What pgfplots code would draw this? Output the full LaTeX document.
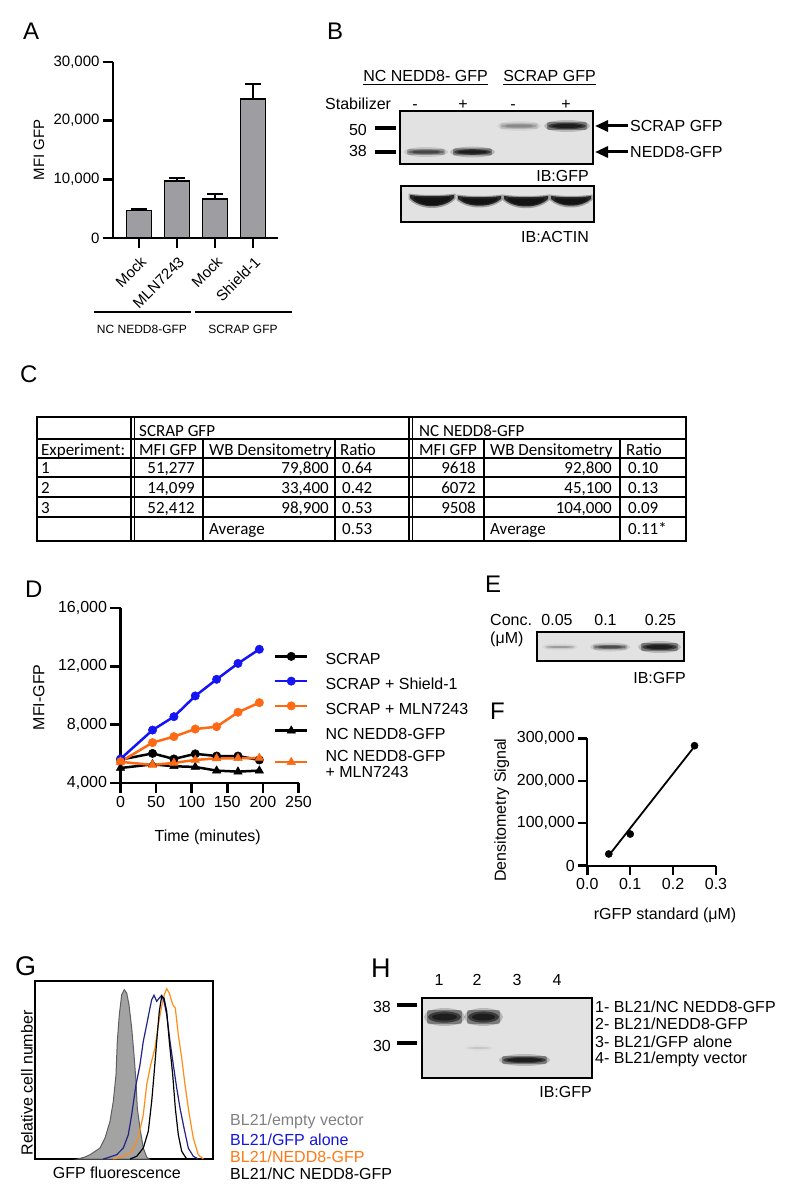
\documentclass[border=0pt]{standalone}
\usepackage{pgfplots}
\pgfplotsset{compat=1.18}
\usepackage{fontspec}
\setmainfont{Liberation Sans}
\newfontfamily\calibri{Carlito}
\usetikzlibrary{arrows.meta}

\definecolor{barGray}{RGB}{158,158,162}
\definecolor{dBlue}{RGB}{20,20,245}
\definecolor{dOrange}{RGB}{255,105,20}
\definecolor{gNavy}{RGB}{35,35,135}
\definecolor{gOrange}{RGB}{255,140,20}
\definecolor{gFill}{RGB}{163,163,163}
\definecolor{gEdge}{RGB}{95,95,95}
\definecolor{gText}{RGB}{128,128,128}
\definecolor{tBlue}{RGB}{20,20,220}
\definecolor{tOrange}{RGB}{255,120,20}
\definecolor{blotBg}{RGB}{226,226,226}

\newcommand\fs[1]{\fontsize{#1}{#1}\selectfont}
\newcommand\tl[3]{\node[anchor=base west,inner sep=0pt] at (#1,-#2) {#3};}
\newcommand\tr[3]{\node[anchor=base east,inner sep=0pt] at (#1,-#2) {#3};}
\newcommand\tc[3]{\node[anchor=base,inner sep=0pt] at (#1,-#2) {#3};}
\newcommand\band[5]{%
  \pgfmathsetmacro\oA{0.18*#5}\pgfmathsetmacro\oB{0.35*#5}\pgfmathsetmacro\oC{0.5*#5}\pgfmathsetmacro\oD{0.5*#5}%
  \fill[black,opacity=\oA] ({(#1+#2)/2},-#3) ellipse ({(#2-#1)/2+3} and {#4+2});
  \fill[black,opacity=\oB,rounded corners=2pt] (#1,{-#3-#4}) rectangle (#2,{-#3+#4});
  \fill[black,opacity=\oC] ({(#1+#2)/2},-#3) ellipse ({(#2-#1)/2-1} and {#4*0.8});
  \fill[black,opacity=\oD] ({(#1+#2)/2},-#3) ellipse ({(#2-#1)/2-5} and {#4*0.5});
}
% curved (smile-shaped) band: x-left, x-right, y-top, y-bottom (middle)
\newcommand\actinband[4]{%
  \fill[black,opacity=0.3] ({#1-1.5},{-#3+1.5}) .. controls ({#1+12},{-#3-0.5}) and ({#2-12},{-#3-0.5}) .. ({#2+1.5},{-#3+1.5})
     -- ({#2+1.5},{-#3-4}) .. controls ({#2-10},{-#4-2}) and ({#1+10},{-#4-2}) .. ({#1-1.5},{-#3-4}) -- cycle;
  \fill[black,opacity=0.75] (#1,-#3) .. controls ({#1+12},{-#3-1.5}) and ({#2-12},{-#3-1.5}) .. (#2,-#3)
     -- (#2,{-#3-3}) .. controls ({#2-10},{-#4}) and ({#1+10},{-#4}) .. (#1,{-#3-3}) -- cycle;
  \fill[black,opacity=0.5] ({#1+4},{-#3-2}) .. controls ({#1+14},{-#3-3}) and ({#2-14},{-#3-3}) .. ({#2-4},{-#3-2})
     -- ({#2-4},{-#3-4}) .. controls ({#2-12},{-#4+2}) and ({#1+12},{-#4+2}) .. ({#1+4},{-#3-4}) -- cycle;
}
\newcommand\lrow[1]{\rule[-6.75pt]{0pt}{25pt}#1}

\pgfplotsset{
  prism/.style={
    scale only axis,
    axis x line=bottom, axis y line=left,
    axis line style={-, line width=2.5pt},
    every tick/.style={black, line width=2.5pt},
    major tick style={black, line width=2.5pt},
    xtick style={black, line width=2.5pt},
    ytick style={black, line width=2.5pt},
    tick align=outside,
    major tick length=10pt,
    tick label style={font=\fs{16}},
    /pgf/number format/fixed,
    /pgf/number format/assume math mode=true,
    /pgf/number format/1000 sep={,},
    scaled ticks=false,
    clip=false,
  },
}

\begin{document}
\begin{tikzpicture}
\path[use as bounding box] (0pt,0pt) rectangle (788pt,-1198pt);

% ---------------- Panel A ----------------
\begin{axis}[prism,
  at={(113pt,-238pt)}, anchor=south west,
  width=165pt, height=176pt,
  xmin=-0.684, xmax=3.658, ymin=0, ymax=30000,
  ytick={0,10000,20000,30000},
  xtick={0,1,2,3},
  xticklabels={Mock,MLN7243,Mock,Shield-1},
  tick label style={font=\fs{15}},
  xticklabel style={xshift=7pt, yshift=-9pt, rotate=45, anchor=east, font=\fs{15}},
  every axis y label/.style={at={(axis description cs:-0.448,0.5)}, rotate=90, anchor=center, font=\fs{15}},
  ylabel={MFI GFP},
]
\addplot[ybar, bar width=25pt, fill=barGray, draw=black, line width=1.8pt,
  error bars/.cd, y dir=plus, y explicit,
  error bar style={line width=2.2pt, black},
  error mark options={rotate=90, mark size=8pt, line width=2.2pt, black}]
  coordinates {(0,4700) +- (0,250) (1,9650) +- (0,550) (2,6650) +- (0,850) (3,23650) +- (0,2550)};
\pgfplotsinvokeforeach{0,1,2,3}{\draw[line width=2.5pt] (axis cs:#1,0) -- ++(0pt,-10pt);}
\pgfplotsinvokeforeach{0,10000,20000,30000}{\draw[line width=2.5pt] (axis cs:-0.684,#1) -- ++(-10pt,0pt);}
\end{axis}

% ---------------- Panel D ----------------
\begin{axis}[prism,
  at={(120.5pt,-783pt)}, anchor=south west,
  width=178pt, height=175pt,
  xmin=0, xmax=250, ymin=4000, ymax=16000,
  xtick={0,50,100,150,200,250}, ytick={4000,8000,12000,16000},
  xlabel={Time (minutes)}, ylabel={MFI-GFP},
  every axis x label/.style={at={(axis description cs:0.49,-0.309)}, anchor=center, font=\fs{16}},
  every axis y label/.style={at={(axis description cs:-0.458,0.489)}, rotate=90, anchor=center, font=\fs{16}},
  legend style={at={(axis description cs:0.8624,0.780)}, anchor=north west, draw=none, fill=none,
    inner sep=0pt, outer sep=0pt, font=\fs{16}, row sep=5pt, column sep=17pt,
    cells={align=left, anchor=west}, nodes={inner sep=0pt}},
  legend image code/.code={\draw[mark repeat=2,mark phase=2,#1] plot coordinates {(0pt,0pt) (16pt,0pt) (32pt,0pt)};},
]
\addplot[black, line width=2.5pt, mark=*, mark size=4.2pt, mark options={solid, line width=0.5pt}]
  coordinates {(0,5600) (45,6030) (75,5650) (105,6000) (135,5850) (165,5850) (195,5580)};
\addlegendentry{\lrow{SCRAP}}
\addplot[dBlue, line width=2.5pt, mark=*, mark size=4.2pt, mark options={solid, line width=0.5pt}]
  coordinates {(0,5650) (45,7630) (75,8550) (105,9970) (135,11110) (165,12200) (195,13170)};
\addlegendentry{\lrow{SCRAP + Shield-1}}
\addplot[dOrange, line width=2.5pt, mark=*, mark size=4.2pt, mark options={solid, line width=0.5pt}]
  coordinates {(0,5460) (45,6770) (75,7180) (105,7700) (135,7860) (165,8850) (195,9510)};
\addlegendentry{\lrow{SCRAP + MLN7243}}
\addplot[black, line width=2.5pt, mark=triangle*, mark size=4.8pt, mark options={solid, line width=0.5pt}]
  coordinates {(0,5030) (45,5280) (75,5150) (105,5100) (135,4850) (165,4780) (195,4850)};
\addlegendentry{\lrow{NC NEDD8-GFP}}
\addplot[dOrange, line width=2.5pt, mark=triangle*, mark size=4.8pt, mark options={solid, line width=0.5pt}]
  coordinates {(0,5450) (45,5240) (75,5380) (105,5580) (135,5690) (165,5700) (195,5720)};
\addlegendentry{\fontsize{16}{17}\selectfont\rule{0pt}{15.75pt}NC NEDD8-GFP\\\rule[-4.25pt]{0pt}{4.25pt}+ MLN7243}
\pgfplotsinvokeforeach{0,50,100,150,200,250}{\draw[line width=2.5pt] (axis cs:#1,4000) -- ++(0pt,-10pt);}
\pgfplotsinvokeforeach{4000,8000,12000,16000}{\draw[line width=2.5pt] (axis cs:0,#1) -- ++(-10pt,0pt);}
\end{axis}

% ---------------- Panel F ----------------
\begin{axis}[prism,
  at={(587.3pt,-865.7pt)}, anchor=south west,
  width=128.7pt, height=127.4pt,
  axis line style={line width=2pt},
  every tick/.style={black, line width=2pt}, major tick style={black, line width=2pt}, major tick length=9pt,
  xmin=0, xmax=0.3, ymin=0, ymax=300000,
  xtick={0,0.1,0.2,0.3}, ytick={0,100000,200000,300000},
  xticklabels={0.0,0.1,0.2,0.3},
  xlabel={rGFP standard (μM)}, ylabel={Densitometry Signal},
  every axis x label/.style={at={(axis description cs:0.604,-0.387)}, anchor=center, font=\fs{16}},
  every axis y label/.style={at={(axis description cs:-0.665,0.437)}, rotate=90, anchor=center, font=\fs{16}},
]
\addplot[black, line width=1.8pt, no marks] coordinates {(0.05,24000) (0.25,281000)};
\addplot[black, only marks, mark=*, mark size=3.6pt] coordinates {(0.05,27600) (0.1,74600) (0.25,282600)};
\pgfplotsinvokeforeach{0,0.1,0.2,0.3}{\draw[line width=2pt] (axis cs:#1,0) -- ++(0pt,-9pt);}
\pgfplotsinvokeforeach{0,100000,200000,300000}{\draw[line width=2pt] (axis cs:0,#1) -- ++(-9pt,0pt);}
\end{axis}

% ---------------- Panel G ----------------
\begin{axis}[scale only axis,
  at={(35pt,-1159pt)}, anchor=south west,
  width=178pt, height=178pt,
  xmin=0, xmax=178, ymin=0, ymax=178,
  xtick=\empty, ytick=\empty,
  axis line style={line width=2pt},
  xlabel={GFP fluorescence}, ylabel={Relative cell number},
  every axis x label/.style={at={(axis description cs:0.46,-0.079)}, anchor=center, font=\fs{16}},
  every axis y label/.style={at={(axis description cs:-0.045,0.427)}, rotate=90, anchor=center, font=\fs{16}},
]
\addplot[fill=gFill, draw=gEdge, line width=1pt] coordinates {
  (43,0) (50,2) (55,4.3) (65,11) (70,21) (75,37.7) (78.3,57.7) (81,84.3) (82.3,117.7) (84.3,144.3)
  (86.7,164.3) (89.3,169.3) (91.7,166) (94,154.3) (96.7,131) (99,104.3) (101,77.7) (102.3,51)
  (105,31) (108.3,11) (111.7,2) (114,0)} \closedcycle;
\addplot[gOrange, line width=1.2pt] coordinates {
  (78.3,0) (88.3,2.7) (96.7,7.7) (103.3,21) (108.3,44.3) (111.7,74.3) (115.7,94.3) (120,111)
  (123.3,134.3) (126.7,152.7) (129.3,164.3) (131.7,170.3) (134.3,166) (137.7,154.3) (140.3,151)
  (143.3,124.3) (146.7,101) (150,74.3) (154.3,44.3) (158.3,21) (163.3,4.3) (168.3,0)};
\addplot[gNavy, line width=1.2pt] coordinates {
  (68.3,0) (71.7,1) (81.7,4.3) (88.3,11) (93.3,24.3) (96.7,44.3) (101,74.3) (105,94.3) (108.3,117.7)
  (111.7,134.3) (114.3,147.7) (116.7,159.3) (119,163.7) (121.7,157.7) (124.3,161) (126.7,163.7)
  (129,157.7) (131.7,144.3) (135,117.7) (138.3,94.3) (141.7,71) (145,51) (149,31) (153.3,11)
  (158.3,2.7) (163.3,0)};
\addplot[black, line width=1.2pt] coordinates {
  (95,0) (101.7,2.7) (108.3,11) (113.3,27.7) (116.7,57.7) (119,84.3) (121.7,117.7) (124.3,147.7)
  (126.7,162.7) (129,161) (131.7,147.7) (134.3,117.7) (137.7,84.3) (140.3,51) (143.3,24.3)
  (146.7,7.7) (151.7,0)};
\end{axis}

\begin{scope}[x=1pt,y=1pt]
% panel letters
\begin{scope}[every node/.style={font=\fs{24}}]
\tl{23}{40}{A}
\tl{327}{40}{B}
\tl{20}{382}{C}
\tl{25}{597}{D}
\tl{485}{592}{E}
\tl{490}{719}{F}
\end{scope}
\begin{scope}[every node/.style={font=\fs{27}}]
\tl{15}{975}{G}
\tl{371}{977}{H}
\end{scope}

% Panel A group labels
\draw[line width=2.5pt] (94,-312) -- (191,-312);
\draw[line width=2.5pt] (195,-312) -- (292,-312);
\begin{scope}[every node/.style={font=\fs{12}}]
\tc{142}{333}{NC NEDD8-GFP}
\tc{243}{333}{SCRAP GFP}
\end{scope}

% Panel B
\begin{scope}[every node/.style={font=\fs{16}}]
\node[anchor=base,inner sep=0pt] (hb1) at (425.5,-82) {NC NEDD8- GFP};
\node[anchor=base,inner sep=0pt] (hb2) at (549.5,-82) {SCRAP GFP};
\draw[line width=0.9pt] ([yshift=-2.5pt]hb1.base west) -- ([yshift=-2.5pt]hb1.base east);
\draw[line width=0.9pt] ([yshift=-2.5pt]hb2.base west) -- ([yshift=-2.5pt]hb2.base east);
\tl{325}{110}{Stabilizer}
\tc{415}{110}{-}
\tc{463}{110}{+}
\tc{513}{110}{-}
\tc{566}{110}{+}
\tr{367}{136}{50}
\tr{367}{157}{38}
\tl{630}{132}{SCRAP GFP}
\tl{630}{158}{NEDD8-GFP}
\tr{589}{182}{IB:GFP}
\tr{589}{243}{IB:ACTIN}
\end{scope}
\draw[line width=4pt] (375,-128) -- (396,-128);
\draw[line width=4pt] (375,-152) -- (396,-152);
\fill[blotBg] (400,-111) rectangle (593,-164);
\band{407}{445}{152}{3}{0.65}
\band{453}{492}{152}{3.5}{1}
\band{500}{538}{126}{3}{0.3}
\band{547}{587}{126}{4}{1}
\draw[line width=2pt] (400,-111) rectangle (593,-164);
\fill[blotBg] (401,-186) rectangle (594,-222);
\actinband{410}{454}{195}{209}
\actinband{458}{501}{196}{208}
\actinband{504}{548}{196}{209}
\actinband{551}{591}{196}{208}
\draw[line width=2pt] (401,-186) rectangle (594,-222);
\draw[line width=3pt, -{Triangle[length=13pt, width=11pt]}] (628,-126) -- (595,-126);
\draw[line width=3pt, -{Triangle[length=13pt, width=11pt]}] (628,-152) -- (595,-152);

% Panel C table
\foreach \yy in {439,458,477,497,517} {\draw[line width=1.2pt] (37,-\yy) -- (686,-\yy);}
\foreach \xx in {131,134.5,409,412.5} {\draw[line width=1.1pt] (\xx,-417) -- (\xx,-541);}
\foreach \xx in {203,335,484,620} {\draw[line width=1.2pt] (\xx,-439) -- (\xx,-541);}
\draw[line width=2.4pt] (37,-417) rectangle (686,-541);
\begin{scope}[every node/.style={font=\calibri\fs{17}}]
\tl{139}{436}{SCRAP GFP}
\tl{419}{436}{NC NEDD8-GFP}
\tl{41}{455}{Experiment:}
\tl{139}{455}{MFI GFP}
\tl{209}{455}{WB Densitometry}
\tl{340}{455}{Ratio}
\tl{419}{455}{MFI GFP}
\tl{490}{455}{WB Densitometry}
\tl{626}{455}{Ratio}
\tl{41}{473}{1}
\tl{41}{493}{2}
\tl{41}{513}{3}
\tr{195}{473}{51,277}
\tr{195}{493}{14,099}
\tr{195}{513}{52,412}
\tr{329}{473}{79,800}
\tr{329}{493}{33,400}
\tr{329}{513}{98,900}
\tl{342}{473}{0.64}
\tl{342}{493}{0.42}
\tl{342}{513}{0.53}
\tl{209}{534}{Average}
\tl{342}{534}{0.53}
\tr{476}{473}{9618}
\tr{476}{493}{6072}
\tr{476}{513}{9508}
\tr{612}{473}{92,800}
\tr{612}{493}{45,100}
\tr{612}{513}{104,000}
\tl{628}{473}{0.10}
\tl{628}{493}{0.13}
\tl{628}{513}{0.09}
\tl{490}{534}{Average}
\tl{628}{534}{0.11*}
\end{scope}

% Panel E
\begin{scope}[every node/.style={font=\fs{16}}]
\tl{490}{625}{Conc.}
\tl{490}{643}{(μM)}
\tc{557}{625}{0.05}
\tc{605.5}{625}{0.1}
\tc{660.5}{625}{0.25}
\tr{686}{683}{IB:GFP}
\end{scope}
\fill[blotBg] (537,-632) rectangle (684,-661);
\band{545}{575}{647}{1.5}{0.25}
\band{593}{627}{647}{2.5}{0.6}
\band{641}{678}{647}{4}{1}
\draw[line width=2pt] (537,-632) rectangle (684,-661);

% Panel G legend
\begin{scope}[every node/.style={font=\fs{16}}]
\tl{230}{1125}{\textcolor{gText}{BL21/empty vector}}
\tl{230}{1145}{\textcolor{tBlue}{BL21/GFP alone}}
\tl{230}{1162}{\textcolor{tOrange}{BL21/NEDD8-GFP}}
\tl{230}{1179}{BL21/NC NEDD8-GFP}
\end{scope}

% Panel H
\begin{scope}[every node/.style={font=\fs{16}}]
\tc{439}{985}{1}
\tc{477}{985}{2}
\tc{517}{985}{3}
\tc{557}{985}{4}
\tr{391}{1012}{38}
\tr{391}{1051}{30}
\tl{595}{1012}{1- BL21/NC NEDD8-GFP}
\tl{595}{1029}{2- BL21/NEDD8-GFP}
\tl{595}{1047}{3- BL21/GFP alone}
\tl{595}{1063}{4- BL21/empty vector}
\tr{592}{1097}{IB:GFP}
\end{scope}
\draw[line width=4pt] (397,-1005) -- (417,-1005);
\draw[line width=4pt] (397,-1043) -- (417,-1043);
\fill[blotBg] (422,-998) rectangle (592,-1078);
\band{427}{462}{1017}{7}{1}
\band{467}{500}{1017}{7}{1}
\band{468}{490}{1048}{0.8}{0.12}
\band{502}{547}{1060}{4}{1}
\draw[line width=2pt] (422,-998) rectangle (592,-1078);
\end{scope}
\end{tikzpicture}
\end{document}
